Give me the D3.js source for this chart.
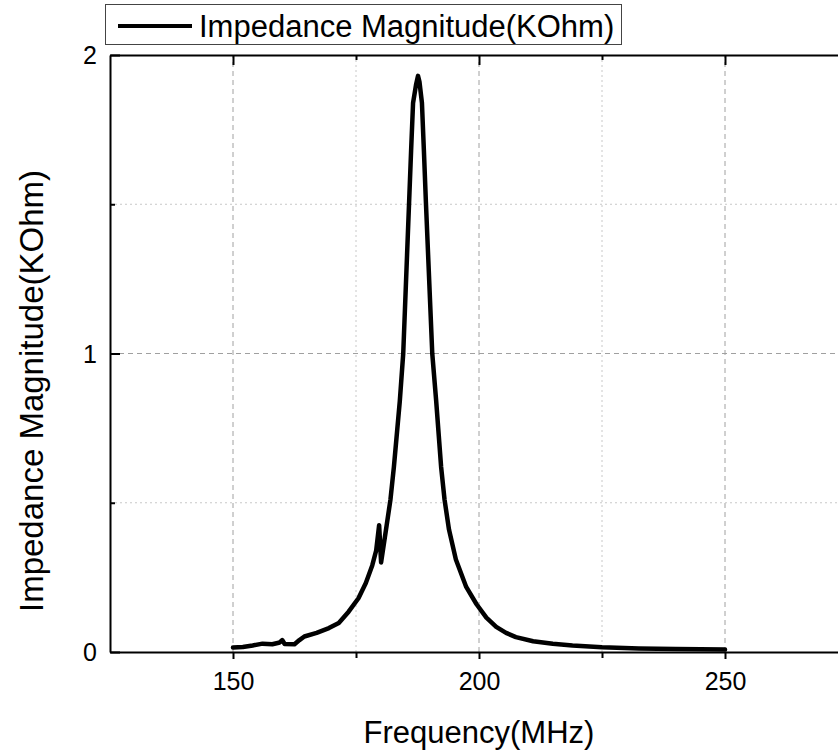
<!DOCTYPE html>
<html>
<head>
<meta charset="utf-8">
<script src="https://cdn.jsdelivr.net/npm/d3@7"></script>
<style>
  body { margin: 0; background: #fff; }
  #chart { width: 838px; height: 753px; }
  text { font-family: "Liberation Sans", Arial, sans-serif; fill: #000; }
</style>
</head>
<body>
<div id="chart"></div>
<script>
// Frequency (MHz)
const freq = [150, 152, 154, 156, 158, 159.5, 160, 160.5, 162.5, 163.5, 164.5, 167, 169.5, 171.5,
  173.5, 175.5, 177, 178.3, 179.1, 179.7, 180.1, 181.1, 182, 182.7, 183.9, 184.6, 185.8, 186.2,
  186.6, 187.2, 187.6, 187.9, 188.4, 188.8, 189.2, 190.5, 191.3, 192.3, 193, 193.9, 195.3, 197.4,
  199.5, 201.5, 203.5, 205.5, 207.5, 211, 215, 219, 225, 232.5, 240, 250];
// Impedance magnitude (KOhm)
const impedance = [0.015, 0.017, 0.022, 0.028, 0.026, 0.032, 0.040, 0.027, 0.026, 0.040, 0.052, 0.064, 0.080, 0.097,
  0.135, 0.180, 0.231, 0.29, 0.34, 0.425, 0.30, 0.41, 0.51, 0.62, 0.84, 1.00, 1.51, 1.68,
  1.84, 1.90, 1.93, 1.91, 1.84, 1.68, 1.51, 1.00, 0.84, 0.62, 0.51, 0.41, 0.31, 0.218,
  0.16, 0.115, 0.084, 0.064, 0.050, 0.036, 0.028, 0.022, 0.016, 0.012, 0.010, 0.008];

const xMajor = [150, 200, 250];
const xMinor = [175, 225];
const yMajor = [0, 1, 2];
const yMinor = [0.5, 1.5];
const seriesName = 'Impedance Magnitude(KOhm)';

document.addEventListener('DOMContentLoaded', function() {
    const width = 838, height = 753;
    const margin = { top: 55, left: 110, bottom: 101 };

    const svg = d3.select('#chart')
        .append('svg')
        .attr('width', width)
        .attr('height', height);

    // x domain runs past the window on the right, like the original
    const x = d3.scaleLinear().domain([125, 275]).range([margin.left, margin.left + 738]);
    const y = d3.scaleLinear().domain([0, 2]).range([height - margin.bottom, margin.top]);

    const grid = svg.append('g');
    // major grid: dashed
    grid.selectAll('.vmaj').data(xMajor).enter().append('line')
        .attr('x1', d => x(d)).attr('x2', d => x(d))
        .attr('y1', y(0)).attr('y2', y(2))
        .attr('stroke', '#a0a0a0').attr('stroke-width', 1).attr('stroke-dasharray', '5,4');
    grid.selectAll('.hmaj').data([1]).enter().append('line')
        .attr('x1', x(125)).attr('x2', x(275))
        .attr('y1', d => y(d)).attr('y2', d => y(d))
        .attr('stroke', '#a0a0a0').attr('stroke-width', 1).attr('stroke-dasharray', '5,4');
    // minor grid: dotted, lighter
    grid.selectAll('.vmin').data(xMinor).enter().append('line')
        .attr('x1', d => x(d)).attr('x2', d => x(d))
        .attr('y1', y(0)).attr('y2', y(2))
        .attr('stroke', '#c8c8c8').attr('stroke-width', 1).attr('stroke-dasharray', '2,3');
    grid.selectAll('.hmin').data(yMinor).enter().append('line')
        .attr('x1', x(125)).attr('x2', x(275))
        .attr('y1', d => y(d)).attr('y2', d => y(d))
        .attr('stroke', '#c8c8c8').attr('stroke-width', 1).attr('stroke-dasharray', '2,3');

    // axes
    const bottom = svg.append('g').attr('transform', `translate(0,${y(0)})`)
        .call(d3.axisBottom(x).tickValues(xMajor).tickSize(7).tickPadding(13).tickSizeOuter(0));
    bottom.append('g').call(d3.axisBottom(x).tickValues(xMinor).tickSize(6).tickFormat('').tickSizeOuter(0))
        .select('.domain').remove();

    const top = svg.append('g').attr('transform', `translate(0,${y(2)})`)
        .call(d3.axisBottom(x).tickValues(xMajor).tickSize(10).tickFormat('').tickSizeOuter(0));
    top.append('g').call(d3.axisBottom(x).tickValues(xMinor).tickSize(5).tickFormat('').tickSizeOuter(0))
        .select('.domain').remove();

    const left = svg.append('g').attr('transform', `translate(${x(125)},0)`)
        .call(d3.axisRight(y).tickValues(yMajor).tickSize(10).tickFormat('').tickSizeOuter(0));
    left.append('g').call(d3.axisRight(y).tickValues(yMinor).tickSize(5).tickFormat('').tickSizeOuter(0))
        .select('.domain').remove();
    left.selectAll('.ylab').data(yMajor).enter().append('text')
        .attr('x', -20).attr('y', d => y(d)).attr('dy', '0.36em')
        .attr('text-anchor', 'middle').style('font-size', '25px')
        .text(d => d);

    svg.selectAll('.domain').attr('stroke', '#000').attr('stroke-width', 2);
    svg.selectAll('.tick line').attr('stroke', '#000').attr('stroke-width', 2);
    bottom.selectAll('.tick text').style('font-size', '25px').attr('fill', '#000')
        .style('font-family', '"Liberation Sans", Arial, sans-serif');

    // data line
    const line = d3.line()
        .x((d, i) => x(freq[i]))
        .y(d => y(d));
    svg.append('path')
        .datum(impedance)
        .attr('d', line)
        .attr('fill', 'none')
        .attr('stroke', '#000')
        .attr('stroke-width', 4.5)
        .attr('stroke-linejoin', 'round')
        .attr('stroke-linecap', 'round');

    // axis titles
    svg.append('text')
        .attr('x', x(200)).attr('y', 743)
        .attr('text-anchor', 'middle').style('font-size', '31px')
        .text('Frequency(MHz)');
    svg.append('text')
        .attr('transform', `translate(43,391) rotate(-90)`)
        .attr('text-anchor', 'middle').style('font-size', '33px')
        .text(seriesName);

    // legend
    const legend = svg.append('g');
    legend.append('rect')
        .attr('x', 105.5).attr('y', 4.5).attr('width', 516).attr('height', 40)
        .attr('fill', '#fff').attr('stroke', '#444').attr('stroke-width', 1);
    legend.append('line')
        .attr('x1', 118).attr('x2', 192).attr('y1', 26).attr('y2', 26)
        .attr('stroke', '#000').attr('stroke-width', 4);
    legend.append('text')
        .attr('x', 199).attr('y', 37)
        .style('font-size', '31px')
        .text(seriesName);
});
</script>
</body>
</html>
